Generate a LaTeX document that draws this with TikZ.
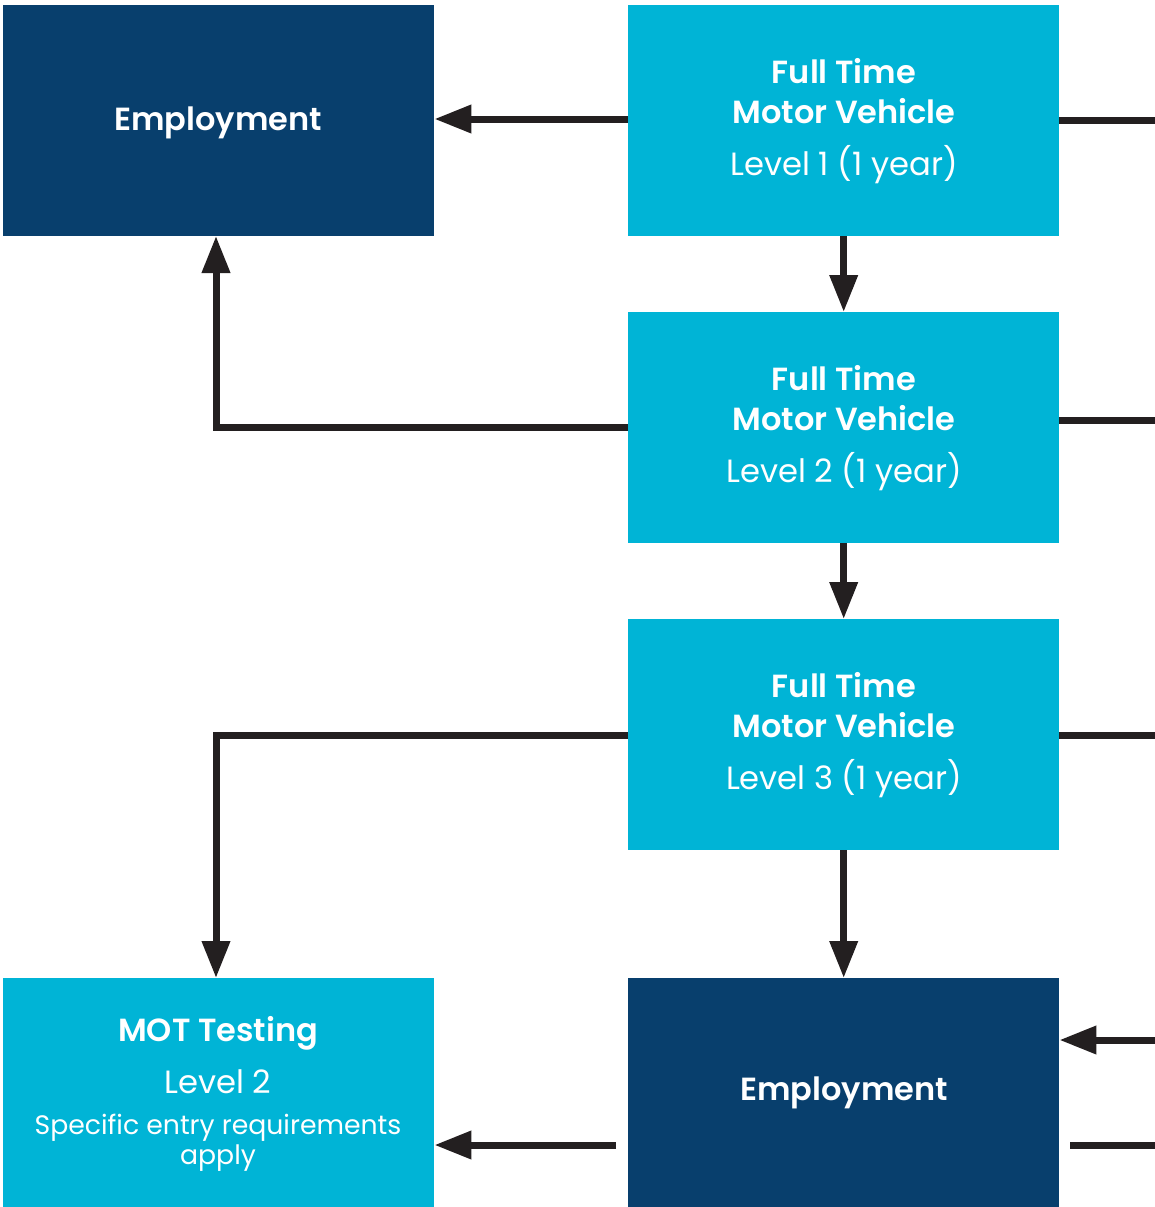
\documentclass[tikz,border=0pt]{standalone}
\usepackage{fontspec}
\setmainfont{Poppins}[BoldFont={Poppins SemiBold}]
\usetikzlibrary{arrows.meta}
\definecolor{lightbox}{HTML}{00B4D6}
\definecolor{darkbox}{HTML}{083F6D}
\definecolor{linecol}{HTML}{231F20}
\tikzset{
  box/.style={draw=none,inner sep=0pt,minimum width=431pt,minimum height=231pt,anchor=north west},
  lbox/.style={box,fill=lightbox},
  dbox/.style={box,fill=darkbox},
  txt/.style={text=white,anchor=base,inner sep=0pt},
  head/.style={txt,font=\fontsize{32}{36}\selectfont\bfseries},
  sub/.style={txt,font=\fontsize{32.2}{36}\selectfont},
  small/.style={txt,font=\fontsize{26.7}{30}\selectfont},
  conn/.style={draw=linecol,line width=7pt},
  arr/.style={conn,-{Triangle[length=37pt,width=27pt]}},
}
\begin{document}
\begin{tikzpicture}[x=1pt,y=-1pt]
\useasboundingbox (0,0) rectangle (1155,1207);
% boxes
\node[dbox] (emp1) at (3,5) {};
\node[lbox] (ft1) at (628,5) {};
\node[lbox] (ft2) at (628,312) {};
\node[lbox] (ft3) at (628,619) {};
\node[lbox,minimum height=229pt] (mot) at (3,978) {};
\node[dbox,minimum height=229pt] (emp2) at (628,978) {};
% texts
\node[head] (emp1t) at (218,130) {Employment};
\node[head] (ft1a) at (844,83) {Full Time};
\node[head] (ft1b) at (844,123) {Motor Vehicle};
\node[sub]  (ft1c) at (844,175) {Level 1 (1 year)};
\node[head] (ft2a) at (844,390) {Full Time};
\node[head] (ft2b) at (844,430) {Motor Vehicle};
\node[sub]  (ft2c) at (844,482) {Level 2 (1 year)};
\node[head] (ft3a) at (844,697) {Full Time};
\node[head] (ft3b) at (844,737) {Motor Vehicle};
\node[sub]  (ft3c) at (844,789) {Level 3 (1 year)};
\node[head] (mota) at (218,1041) {MOT Testing};
\node[sub]  (motb) at (218,1093) {Level 2};
\node[small] (motc) at (218,1134) {Specific entry requirements};
\node[small] (motd) at (218,1164) {apply};
\node[head] (emp2t) at (844,1100) {Employment};
% coordinates
\coordinate (r1) at (1155,120);
\coordinate (r2) at (1155,420);
\coordinate (r3) at (1155,735);
\coordinate (r4) at (1155,1040);
\coordinate (r5a) at (1070,1145);
\coordinate (r5b) at (1155,1145);
\coordinate (m1) at (616,1145);
% connectors
\draw[arr] (ft1.west |- 0,119) -- (emp1.east |- 0,119);
\draw[conn] (ft1.east |- r1) -- (r1);
\draw[arr] (ft1.south) -- (ft2.north);
\draw[arr] (ft2.west |- 0,427) -- (216,427) -- (216,236);
\draw[conn] (ft2.east |- r2) -- (r2);
\draw[arr] (ft2.south) -- (ft3.north);
\draw[arr] (ft3.west |- 0,735) -- (216,735) -- (216,978);
\draw[conn] (ft3.east |- r3) -- (r3);
\draw[arr] (ft3.south) -- (emp2.north);
\draw[arr] (r4) -- (emp2.east |- r4);
\draw[conn] (r5a) -- (r5b);
\draw[arr] (m1) -- (mot.east |- m1);
\end{tikzpicture}
\end{document}
